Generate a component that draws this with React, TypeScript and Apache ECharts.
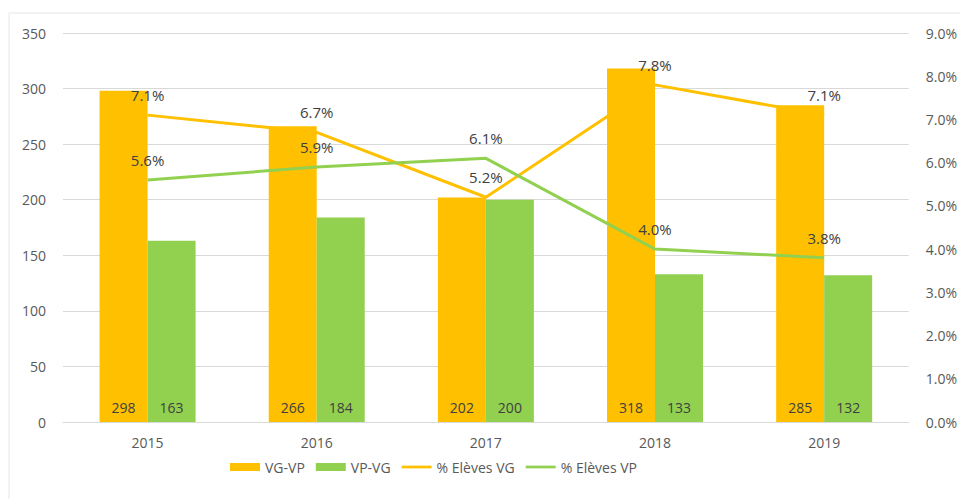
import React, { useEffect, useRef } from "react";
import * as echarts from "echarts";

const years = ["2015", "2016", "2017", "2018", "2019"];
const vgvp = [298, 266, 202, 318, 285];
const vpvg = [163, 184, 200, 133, 132];
const pctVG = [7.1, 6.7, 5.2, 7.8, 7.1];
const pctVP = [5.6, 5.9, 6.1, 4.0, 3.8];

const ORANGE = "#FFC000";
const GREEN = "#92D050";
const TXT = "#595959";
const FONT = "'Open Sans', 'Noto Sans', sans-serif";
const LINE_ICON = "path://M0,0 L33,0 L33,3 L0,3 Z";

export default function App() {
  const ref = useRef<HTMLDivElement>(null);
  useEffect(() => {
    const chart = echarts.init(ref.current!, null, { renderer: "svg" });
    const lineLabel = {
      show: true,
      position: "top",
      distance: 12,
      color: "#404040",
      fontSize: 15,
      fontFamily: FONT,
      formatter: (p: any) => p.value.toFixed(1) + "%",
    };
    const barLabel = {
      show: true,
      position: "insideBottom",
      distance: 8,
      color: "#404040",
      fontSize: 14,
      fontFamily: FONT,
    };
    chart.setOption({
      animation: false,
      textStyle: { fontFamily: FONT },
      graphic: [
        {
          type: "rect",
          shape: { x: 9, y: 13, width: 960, height: 500 },
          style: { fill: "none", stroke: "#e6e6e6", lineWidth: 1 },
          silent: true,
        },
      ],
      grid: { left: 63, right: 47, top: 33, bottom: 77 },
      legend: {
        bottom: 20,
        left: 225,
        itemGap: 11,
        itemWidth: 30,
        itemHeight: 8,
        textStyle: { color: TXT, fontSize: 14, fontFamily: FONT },
        data: [
          { name: "VG-VP", icon: "rect", itemStyle: { color: ORANGE } },
          { name: "VP-VG", icon: "rect", itemStyle: { color: GREEN } },
          { name: "% Elèves VG", icon: LINE_ICON, itemStyle: { color: ORANGE, opacity: 1 } },
          { name: "% Elèves VP", icon: LINE_ICON, itemStyle: { color: GREEN, opacity: 1 } },
        ],
      },
      xAxis: {
        type: "category",
        data: years,
        axisLine: { lineStyle: { color: "#d9d9d9" } },
        axisTick: { show: false },
        axisLabel: { color: TXT, fontSize: 14, margin: 13, fontFamily: FONT },
      },
      yAxis: [
        {
          type: "value",
          min: 0,
          max: 350,
          interval: 50,
          axisLine: { show: false },
          axisTick: { show: false },
          splitLine: { lineStyle: { color: "#d9d9d9" } },
          axisLabel: { color: TXT, fontSize: 14, margin: 17, fontFamily: FONT },
        },
        {
          type: "value",
          min: 0,
          max: 9,
          interval: 1,
          axisLine: { show: false },
          axisTick: { show: false },
          splitLine: { show: false },
          axisLabel: {
            color: TXT,
            fontSize: 14,
            margin: 17,
            fontFamily: FONT,
            formatter: (v: number) => v.toFixed(1) + "%",
          },
        },
      ],
      series: [
        {
          name: "VG-VP",
          type: "bar",
          data: vgvp,
          barWidth: 48,
          barGap: "0%",
          itemStyle: { color: ORANGE },
          label: barLabel,
        },
        {
          name: "VP-VG",
          type: "bar",
          data: vpvg,
          barWidth: 48,
          barGap: "0%",
          itemStyle: { color: GREEN },
          label: barLabel,
        },
        {
          name: "% Elèves VG",
          type: "line",
          yAxisIndex: 1,
          data: pctVG,
          symbol: "circle",
          symbolSize: 1,
          showSymbol: true,
          lineStyle: { color: ORANGE, width: 3 },
          itemStyle: { color: "rgba(0,0,0,0)" },
          label: lineLabel,
        },
        {
          name: "% Elèves VP",
          type: "line",
          yAxisIndex: 1,
          data: pctVP,
          symbol: "circle",
          symbolSize: 1,
          showSymbol: true,
          lineStyle: { color: GREEN, width: 3 },
          itemStyle: { color: "rgba(0,0,0,0)" },
          label: lineLabel,
        },
      ],
    });
    return () => chart.dispose();
  }, []);
  return (
    <div
      ref={ref}
      style={{ position: "absolute", left: 0, top: 0, width: 960, height: 499, background: "#fff" }}
    />
  );
}
